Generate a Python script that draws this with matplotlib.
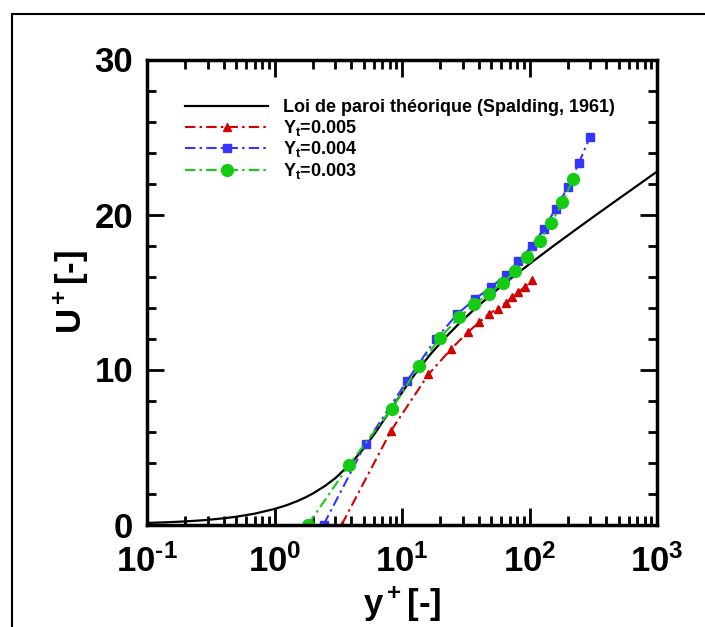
import numpy as np
import matplotlib
matplotlib.use('Agg')
import matplotlib.pyplot as plt
from matplotlib.lines import Line2D
from matplotlib.ticker import MultipleLocator, LogLocator, FuncFormatter

plt.rcParams['font.family'] = ['Liberation Sans', 'DejaVu Sans']
plt.rcParams['font.weight'] = 'bold'
plt.rcParams['axes.labelweight'] = 'bold'
plt.rcParams['axes.unicode_minus'] = False
plt.rcParams['mathtext.fontset'] = 'custom'
plt.rcParams['mathtext.rm'] = 'Liberation Sans:bold'
plt.rcParams['mathtext.it'] = 'Liberation Sans:bold'
plt.rcParams['mathtext.bf'] = 'Liberation Sans:bold'
plt.rcParams['mathtext.default'] = 'rm'

# theoretical wall law
yp_law = [0.1, 0.15, 0.2, 0.25, 0.3, 0.4, 0.5, 0.7, 1.0, 1.25, 1.5, 1.75, 2.0, 2.5,
          3.01, 4.04, 5.12, 6.27, 7.56, 9.08, 10.97, 13.43, 16.78, 21.5, 28.3,
          38.25, 52.94, 74.75, 107.3, 155.7, 228.1, 336.3, 497.8, 739.1, 1000]
up_law = [0.1, 0.15, 0.2, 0.25, 0.3, 0.4, 0.5, 0.7, 1.0, 1.25, 1.5, 1.75, 2.0, 2.5,
          3, 4, 5, 6, 7, 8, 9, 10, 11, 12, 13,
          14, 15, 16, 17, 18, 19, 20, 21, 22, 22.77]

# Yt = 0.005
yp_005 = [3.37, 8.22, 16.1, 24.4, 32.8, 40.4, 48.5, 56.4, 65.2, 72.9, 81.7, 92.2, 105]
up_005 = [0.0, 6.06, 9.68, 11.34, 12.4, 13.05, 13.6, 13.93, 14.3, 14.65, 14.97, 15.35, 15.78]

# Yt = 0.004
yp_004 = [2.43, 5.18, 11.0, 18.5, 27.0, 37.4, 49.9, 65.0, 81.6, 104, 130, 160, 200, 244, 298]
up_004 = [0.0, 5.2, 9.29, 12.0, 13.55, 14.56, 15.3, 16.1, 16.98, 17.95, 19.08, 20.37, 21.76, 23.33, 25.0]

# Yt = 0.003
yp_003 = [1.84, 3.86, 8.3, 13.6, 19.95, 28.0, 37.0, 48.1, 61.6, 77.2, 95.9, 119.8, 148, 181.4, 220.7]
up_003 = [0.0, 3.87, 7.46, 10.22, 12.06, 13.37, 14.2, 14.9, 15.6, 16.35, 17.25, 18.3, 19.43, 20.8, 22.3]

labels = ['Loi de paroi théorique (Spalding, 1961)',
          'Y$_t$=0.005', 'Y$_t$=0.004', 'Y$_t$=0.003']


def pow10(v, pos):
    e = int(round(np.log10(v)))
    return r'$\mathdefault{10^{\text{%d}}}$' % e


W, H = 705, 627
fig = plt.figure(figsize=(W / 100, H / 100), dpi=100)
ax = fig.add_axes([147 / W, (H - 524.5) / H, 510 / W, 465 / H])

dd = (5, 2, 1.2, 2)
ax.plot(yp_law, up_law, color='k', lw=1.6, label=labels[0])
ax.plot(yp_005, up_005, color='#d40000', lw=1.5, dashes=dd, marker='^', ms=6,
        mec='#d40000', label=labels[1])
ax.plot(yp_004, up_004, color='#3535ff', lw=1.5, dashes=dd, marker='s', ms=6,
        mec='#3535ff', label=labels[2])
ax.plot(yp_003, up_003, color='#14cc14', lw=1.5, dashes=dd, marker='o', ms=8.5,
        mec='#14cc14', label=labels[3])

ax.set_xscale('log')
ax.set_xlim(0.1, 1000)
ax.set_ylim(0, 30)
ax.set_yticks([0, 10, 20, 30])
ax.yaxis.set_minor_locator(MultipleLocator(2))
ax.xaxis.set_minor_locator(LogLocator(base=10, subs=np.arange(2, 10)))
ax.xaxis.set_major_formatter(FuncFormatter(pow10))

ax.tick_params(which='both', direction='in', top=True, right=True, width=2,
               labelsize=25)
ax.tick_params(which='major', length=12)
ax.tick_params(which='minor', length=6.5)
ax.tick_params(axis='x', which='major', pad=14)
ax.tick_params(axis='y', which='major', pad=10)
for s in ax.spines.values():
    s.set_linewidth(2.5)

ax.set_xlabel('y$^+$[-]', fontsize=25, labelpad=4)
ax.set_ylabel('U$^+$[-]', fontsize=25, labelpad=3)

ax.legend(loc='upper left', bbox_to_anchor=(0.0745, 0.914), frameon=False,
          fontsize=13, handlelength=4.6, handletextpad=0.85, labelspacing=0.08,
          borderaxespad=0, borderpad=0)

# outer frame
fig.add_artist(Line2D([12 / W, 12 / W], [0, 1 - 14 / H], transform=fig.transFigure,
                      color='k', lw=1.5))
fig.add_artist(Line2D([12 / W, 704 / W], [1 - 14 / H, 1 - 14 / H],
                      transform=fig.transFigure, color='k', lw=1.5))

fig.savefig('out.png', dpi=100)
